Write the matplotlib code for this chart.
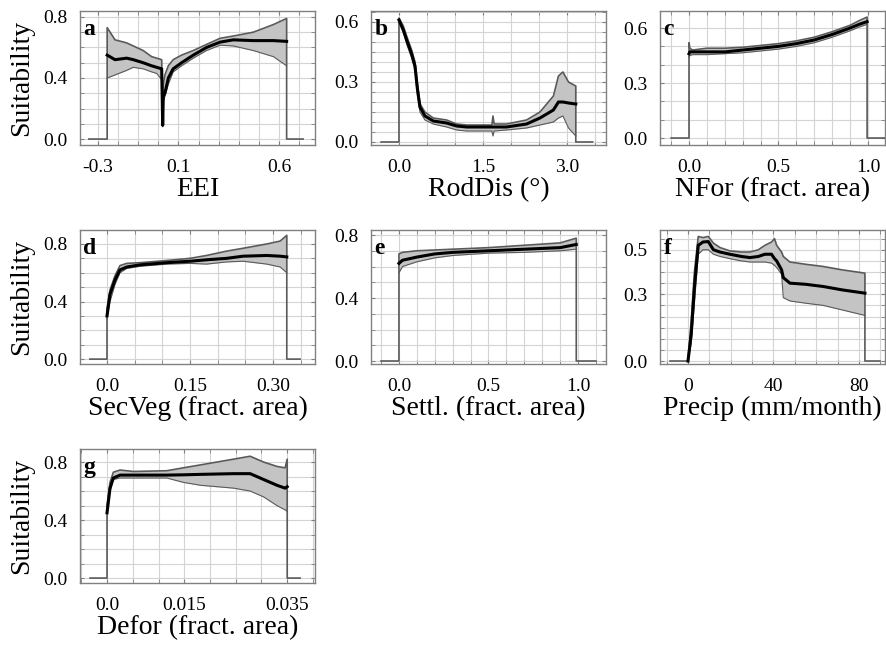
import matplotlib
matplotlib.use("Agg")
import matplotlib.pyplot as plt
import numpy as np

plt.rcParams['font.family'] = ['Liberation Serif', 'DejaVu Serif']

# --- data (x, mean, upper, lower) ---
a_x = [-0.254, -0.215, -0.157, -0.124, -0.075, -0.033, -0.008, 0.017, 0.022, 0.025,
       0.033, 0.050, 0.074, 0.116, 0.174, 0.240, 0.307, 0.373, 0.472, 0.572, 0.638]
a_mean = [0.55, 0.52, 0.53, 0.52, 0.50, 0.48, 0.47, 0.46, 0.09, 0.28,
          0.30, 0.40, 0.46, 0.50, 0.55, 0.60, 0.635, 0.65, 0.645, 0.645, 0.64]
a_hi = [0.73, 0.65, 0.63, 0.61, 0.58, 0.54, 0.53, 0.52, 0.12, 0.36,
        0.42, 0.48, 0.52, 0.55, 0.58, 0.62, 0.66, 0.675, 0.70, 0.75, 0.79]
a_lo = [0.40, 0.42, 0.45, 0.47, 0.46, 0.44, 0.43, 0.39, 0.08, 0.25,
        0.28, 0.36, 0.44, 0.48, 0.53, 0.58, 0.615, 0.61, 0.58, 0.54, 0.48]

b_x = [0.0, 0.077, 0.137, 0.226, 0.286, 0.327, 0.375, 0.464, 0.613, 0.851, 1.03, 1.21,
       1.60, 1.66, 1.68, 1.70, 1.92, 2.28, 2.52, 2.76, 2.85, 2.93, 3.03, 3.16]
b_mean = [0.61, 0.56, 0.51, 0.44, 0.38, 0.27, 0.175, 0.13, 0.105, 0.095, 0.08, 0.075,
          0.075, 0.075, 0.075, 0.075, 0.075, 0.09, 0.12, 0.16, 0.20, 0.20, 0.195, 0.19]
b_hi = [0.62, 0.58, 0.53, 0.46, 0.40, 0.30, 0.19, 0.15, 0.12, 0.11, 0.09, 0.085,
        0.085, 0.085, 0.13, 0.09, 0.09, 0.11, 0.15, 0.23, 0.33, 0.35, 0.30, 0.28]
b_lo = [0.60, 0.55, 0.49, 0.42, 0.36, 0.24, 0.15, 0.11, 0.09, 0.075, 0.06, 0.055,
        0.055, 0.055, 0.03, 0.055, 0.06, 0.07, 0.085, 0.10, 0.12, 0.13, 0.07, 0.03]

c_x = [0.0, 0.005, 0.02, 0.1, 0.2, 0.3, 0.4, 0.5, 0.6, 0.7, 0.8, 0.9, 0.95, 0.995]
c_mean = [0.46, 0.47, 0.47, 0.47, 0.47, 0.48, 0.49, 0.50, 0.515, 0.535, 0.565, 0.60, 0.62, 0.635]
c_hi = [0.52, 0.49, 0.48, 0.49, 0.49, 0.495, 0.505, 0.515, 0.53, 0.55, 0.58, 0.615, 0.64, 0.66]
c_lo = [0.44, 0.45, 0.455, 0.455, 0.46, 0.465, 0.475, 0.485, 0.50, 0.52, 0.55, 0.585, 0.605, 0.62]

d_x = [0.0, 0.0054, 0.0145, 0.0235, 0.0356, 0.060, 0.108, 0.150, 0.180, 0.216, 0.246, 0.289, 0.313, 0.325]
d_mean = [0.30, 0.45, 0.55, 0.62, 0.64, 0.655, 0.67, 0.68, 0.69, 0.70, 0.715, 0.72, 0.715, 0.71]
d_hi = [0.35, 0.48, 0.58, 0.65, 0.665, 0.67, 0.685, 0.70, 0.72, 0.75, 0.77, 0.80, 0.82, 0.86]
d_lo = [0.28, 0.40, 0.52, 0.60, 0.63, 0.645, 0.66, 0.665, 0.66, 0.675, 0.68, 0.66, 0.64, 0.60]

e_x = [0.0, 0.02, 0.1, 0.2, 0.3, 0.5, 0.7, 0.9, 0.99]
e_mean = [0.62, 0.64, 0.66, 0.68, 0.69, 0.70, 0.71, 0.72, 0.74]
e_hi = [0.68, 0.69, 0.70, 0.705, 0.71, 0.72, 0.735, 0.75, 0.78]
e_lo = [0.56, 0.60, 0.63, 0.655, 0.67, 0.685, 0.69, 0.70, 0.71]

f_x = [0, 1.5, 3.0, 4.8, 7.0, 9.5, 11.9, 15, 19.6, 25, 29, 32.9, 36, 39.1, 40.5, 41.5,
       43.8, 44.6, 47.7, 55, 63.3, 72, 82.8]
f_mean = [0.0, 0.12, 0.33, 0.52, 0.535, 0.537, 0.50, 0.49, 0.48, 0.47, 0.465, 0.47, 0.48,
          0.48, 0.46, 0.45, 0.41, 0.375, 0.35, 0.345, 0.335, 0.32, 0.305]
f_hi = [0.0, 0.18, 0.40, 0.56, 0.555, 0.56, 0.53, 0.51, 0.495, 0.49, 0.49, 0.50, 0.52,
        0.535, 0.55, 0.52, 0.49, 0.47, 0.445, 0.435, 0.425, 0.41, 0.395]
f_lo = [0.0, 0.08, 0.26, 0.48, 0.50, 0.50, 0.48, 0.47, 0.46, 0.45, 0.445, 0.445, 0.445,
        0.44, 0.43, 0.42, 0.39, 0.285, 0.27, 0.26, 0.25, 0.23, 0.205]

g_x = [0.0, 0.00058, 0.00123, 0.00253, 0.0051, 0.0116, 0.0148, 0.0181, 0.0246, 0.0278,
       0.0304, 0.033, 0.0346, 0.0350]
g_mean = [0.45, 0.62, 0.69, 0.71, 0.71, 0.71, 0.712, 0.715, 0.72, 0.72, 0.68, 0.64, 0.62, 0.63]
g_hi = [0.50, 0.66, 0.73, 0.745, 0.735, 0.74, 0.76, 0.78, 0.82, 0.84, 0.80, 0.77, 0.76, 0.82]
g_lo = [0.45, 0.60, 0.68, 0.69, 0.69, 0.69, 0.66, 0.64, 0.62, 0.60, 0.56, 0.50, 0.47, 0.46]

# flat zero response outside the sampled range (left end, right end)
a_zero = (-0.345, 0.72)
b_zero = (-0.32, 3.46)
c_zero = (-0.10, 1.10)
d_zero = (-0.031, 0.349)
e_zero = (-0.10, 1.10)
f_zero = (-8.4, 89.8)
g_zero = (-0.0033, 0.0375)

letters = ['a', 'b', 'c', 'd', 'e', 'f', 'g']
xlabels = ['EEI', 'RodDis (°)', 'NFor (fract. area)', 'SecVeg (fract. area)',
           'Settl. (fract. area)', 'Precip (mm/month)', 'Defor (fract. area)']
xticks = [[-0.3, 0.1, 0.6], [0.0, 1.5, 3.0], [0.0, 0.5, 1.0], [0.0, 0.15, 0.30],
          [0.0, 0.5, 1.0], [0, 40, 80], [0.0, 0.015, 0.035]]
xticklabels = [['-0.3', '0.1', '0.6'], ['0.0', '1.5', '3.0'], ['0.0', '0.5', '1.0'],
               ['0.0', '0.15', '0.30'], ['0.0', '0.5', '1.0'], ['0', '40', '80'],
               ['0.0', '0.015', '0.035']]
yticks = [[0.0, 0.4, 0.8], [0.0, 0.3, 0.6], [0.0, 0.3, 0.6], [0.0, 0.4, 0.8],
          [0.0, 0.4, 0.8], [0.0, 0.3, 0.5], [0.0, 0.4, 0.8]]

series = [(a_x, a_mean, a_hi, a_lo, a_zero), (b_x, b_mean, b_hi, b_lo, b_zero),
          (c_x, c_mean, c_hi, c_lo, c_zero), (d_x, d_mean, d_hi, d_lo, d_zero),
          (e_x, e_mean, e_hi, e_lo, e_zero), (f_x, f_mean, f_hi, f_lo, f_zero),
          (g_x, g_mean, g_hi, g_lo, g_zero)]

# axis setup: limits and grid steps per panel
xlims = [(-0.389, 0.779), (-0.50, 3.70), (-0.162, 1.095), (-0.0488, 0.376),
         (-0.156, 1.156), (-13.1, 92.2), (-0.00525, 0.0404)]
ylims = [(-0.039, 0.839), (-0.015, 0.655), (-0.038, 0.693), (-0.034, 0.897),
         (-0.019, 0.832), (-0.0134, 0.589), (-0.034, 0.89)]
grid_steps = [(0.1, 0.1), (0.5, 0.05), (0.1, 0.1), (0.05, 0.1), (0.1, 0.1),
              (10, 0.05), (0.005, 0.1)]

W, H = 887, 649
col_left = [80, 371, 660]
col_w = [235, 235, 225]
row_top = [11, 230, 449]
row_h = 134

fig = plt.figure(figsize=(W / 100, H / 100), dpi=100)

for i in range(7):
    r, c = divmod(i, 3)
    ax = fig.add_axes([col_left[c] / W, 1 - (row_top[r] + row_h) / H, col_w[c] / W, row_h / H])
    x, m, hi, lo, zero = series[i]

    ax.fill_between(x, lo, hi, color='#c4c4c4', lw=0, zorder=2)
    # band edges, closed down to zero at both ends
    ax.plot([zero[0], x[0], x[0]] + list(x) + [x[-1], x[-1], zero[1]],
            [0, 0, hi[0]] + list(hi) + [hi[-1], 0, 0], color='#5a5a5a', lw=1.2, zorder=3)
    ax.plot(x, lo, color='#5a5a5a', lw=0.8, zorder=3)
    ax.plot(x, m, color='black', lw=2.2, zorder=4)

    ax.set_xlim(*xlims[i])
    ax.set_ylim(*ylims[i])
    sx, sy = grid_steps[i]
    gx = np.arange(np.ceil(xlims[i][0] / sx) * sx, xlims[i][1], sx)
    gy = np.arange(np.ceil(ylims[i][0] / sy) * sy, ylims[i][1], sy)
    ax.set_xticks(gx, minor=True)
    ax.set_yticks(gy, minor=True)
    ax.set_xticks(xticks[i])
    ax.set_xticklabels(xticklabels[i])
    ax.set_yticks(yticks[i])
    ax.set_yticklabels(['%.1f' % v for v in yticks[i]])
    ax.grid(which='both', color='#d4d4d4', lw=0.8, zorder=0)
    ax.set_axisbelow(True)
    ax.tick_params(which='both', direction='in', length=3, color='#808080',
                   top=True, right=True, labelsize=14)
    ax.tick_params(axis='x', which='major', pad=10)
    ax.tick_params(axis='y', which='major', pad=9)
    for s in ax.spines.values():
        s.set_color('#808080')
        s.set_linewidth(1.0)

    ax.set_xlabel(xlabels[i], fontsize=20, labelpad=1)
    if c == 0:
        ax.set_ylabel('Suitability', fontsize=20)
        ax.yaxis.set_label_coords(-0.195, 0.5)
    ax.annotate(letters[i], xy=(0, 1), xycoords='axes fraction', xytext=(2.5, -17.5),
                textcoords='offset points', ha='left', va='baseline',
                fontsize=17, fontweight='bold')

fig.savefig('out.png', dpi=100)
